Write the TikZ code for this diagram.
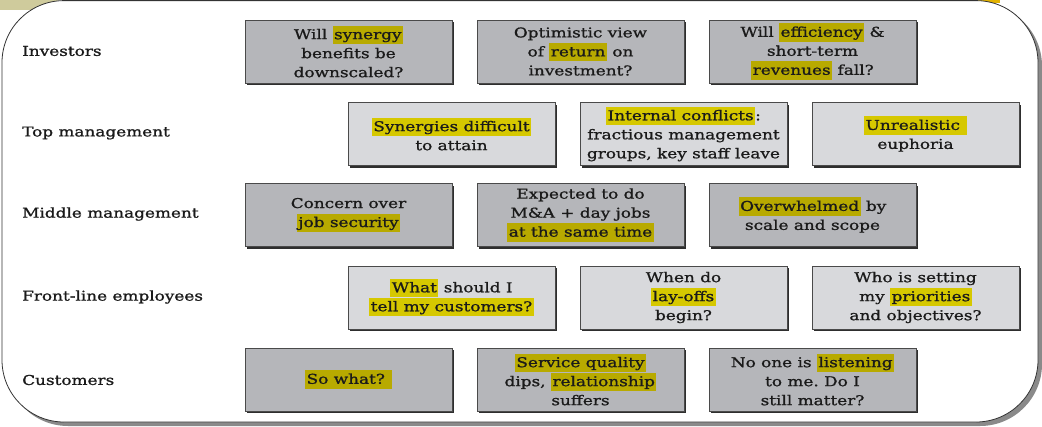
\documentclass[tikz,border=0pt]{standalone}
\usepackage{fontspec}
\setmainfont{DejaVu Serif}[FakeStretch=1.25, FakeBold=1.1]
\frenchspacing
\definecolor{darkfill}{HTML}{B5B6BA}
\definecolor{lightfill}{HTML}{D8D9DC}
\definecolor{hlDcol}{HTML}{B8AA00}
\definecolor{hlLcol}{HTML}{D6C800}
\definecolor{boxline}{HTML}{4A4A4A}
\definecolor{boxshadow}{HTML}{2E2E2E}
\definecolor{txt}{HTML}{1A1A1A}
\definecolor{framecol}{HTML}{333333}
\definecolor{frameshadow}{HTML}{8A8A8A}
\definecolor{beige}{HTML}{CFCB9C}
\definecolor{topyellow}{HTML}{E2B200}
\newcommand\hlD[1]{{\setlength\fboxsep{0pt}\colorbox{hlDcol}{\rule[-5pt]{0pt}{18.5pt}\kern1.5pt#1\kern1.5pt}}}
\newcommand\hlL[1]{{\setlength\fboxsep{0pt}\colorbox{hlLcol}{\rule[-5pt]{0pt}{18.5pt}\kern1.5pt#1\kern1.5pt}}}
\tikzset{
  basebox/.style={draw=boxline, line width=0.8pt, minimum width=207pt, minimum height=63pt,
    inner sep=0pt, align=center, text=txt, font=\fontsize{13.5}{19}\selectfont,
    preaction={fill=boxshadow, transform canvas={shift={(2.2pt,-2.2pt)}}}},
  darkbox/.style={basebox, fill=darkfill},
  lightbox/.style={basebox, fill=lightfill},
  rowlabel/.style={anchor=west, inner sep=0pt, text=txt, font=\fontsize{13.5}{19}\selectfont},
}
\begin{document}
\begin{tikzpicture}[x=1pt,y=-1pt]
\useasboundingbox (0,0) rectangle (1042,426);
% slide remnants
\fill[beige] (0,0) rectangle (58,10);
\fill[topyellow] (975,0) rectangle (1000,2.5);
% frame
\fill[frameshadow, rounded corners=62pt] (6,4) rectangle (1042,426);
\draw[framecol, fill=white, line width=0.8pt, rounded corners=62pt] (2,0.6) rectangle (1038,422);
% row labels
\node[rowlabel] (lInv) at (22,51) {Investors};
\node[rowlabel] (lTop) at (22,133) {Top management};
\node[rowlabel] (lMid) at (22,214) {Middle management};
\node[rowlabel] (lFro) at (22,297) {Front-line employees};
\node[rowlabel] (lCus) at (22,380) {Customers};
% row 1
\node[darkbox] (i1) at (348.5,51.5) {Will \hlD{synergy}\\benefits be\\downscaled?};
\node[darkbox] (i2) at (580.5,51.5) {Optimistic view\\of \hlD{return} on\\investment?};
\node[darkbox] (i3) at (812.5,51.5) {Will \hlD{efficiency} \&\\short-term\\\hlD{revenues} fall?};
% row 2
\node[lightbox] (t1) at (451.5,134) {\hlL{Synergies difficult}\\to attain};
\node[lightbox] (t2) at (683.5,134) {\hlL{Internal conflicts}:\\fractious management\\groups, key staff leave};
\node[lightbox] (t3) at (915.5,134) {\hlL{Unrealistic\ }\\euphoria};
% row 3
\node[darkbox] (m1) at (348.5,215) {Concern over\\\hlD{job security}};
\node[darkbox] (m2) at (580.5,215) {Expected to do\\M\&A + day jobs\\\hlD{at the same time}};
\node[darkbox] (m3) at (812.5,215) {\hlD{Overwhelmed} by\\scale and scope};
% row 4
\node[lightbox] (f1) at (451.5,297.5) {\hlL{What} should I\\\hlL{tell my customers?}};
\node[lightbox] (f2) at (683.5,297.5) {When do\\\hlL{lay-offs}\\begin?};
\node[lightbox] (f3) at (915.5,297.5) {Who is setting\\my \hlL{priorities}\\and objectives?};
% row 5
\node[darkbox] (c1) at (348.5,379.5) {\hlD{So what?\ }};
\node[darkbox] (c2) at (580.5,379.5) {\hlD{Service quality}\\dips, \hlD{relationship}\\suffers};
\node[darkbox] (c3) at (812.5,379.5) {No one is \hlD{listening}\\to me. Do I\\still matter?};
\end{tikzpicture}
\end{document}
